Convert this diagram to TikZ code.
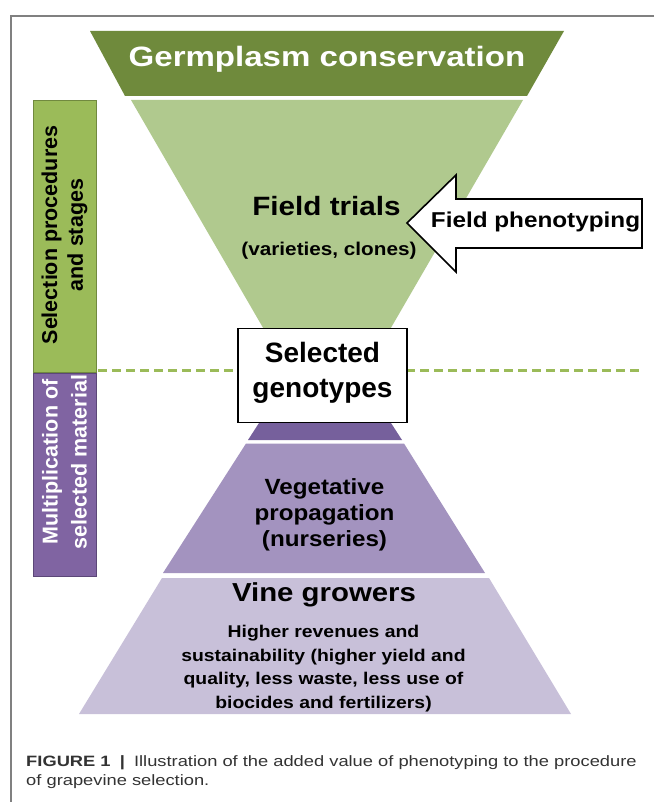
\documentclass[tikz,border=0pt]{standalone}
\usepackage{fontspec}
\setmainfont{Liberation Sans}
\definecolor{germgreen}{HTML}{6F8A3C}
\definecolor{trialgreen}{HTML}{B0C98E}
\definecolor{stagegreen}{HTML}{9BBB59}
\definecolor{stageedge}{HTML}{71893F}
\definecolor{selpurple}{HTML}{76609C}
\definecolor{nurspurple}{HTML}{A393BF}
\definecolor{growpurple}{HTML}{C8C0D9}
\definecolor{multpurple}{HTML}{8064A2}
\definecolor{multedge}{HTML}{5C4778}
\definecolor{capgray}{HTML}{333333}
\newcommand{\fsz}[2]{\fontsize{#1}{#2}\selectfont}
\tikzset{
    wide/.style={transform shape, xscale=#1},
    label/.style={font=\bfseries, inner sep=0pt},
}

\begin{document}
\begin{tikzpicture}[x=1pt,y=-1pt]
    \useasboundingbox (0,0) rectangle (654,802);
    \fill[white] (0,0) rectangle (654,802);
    % frame
    \draw[gray, line width=1.2] (654,16) -- (11,16) -- (11,802);
    % funnel
    \fill[germgreen] (90,31) -- (564,31) -- (527,96) -- (125,96) -- cycle;
    \fill[trialgreen] (131,100) -- (523,100) -- (381,345) -- (273,345) -- cycle;
    \fill[selpurple] (259,423) -- (391,423) -- (402,440) -- (248,440) -- cycle;
    \fill[nurspurple] (246,443.5) -- (404,443.5) -- (485,573) -- (163,573) -- cycle;
    \fill[growpurple] (162,578) -- (489,578) -- (571,714) -- (79,714) -- cycle;
    % side boxes
    \draw[stageedge, fill=stagegreen, line width=1] (33,101) rectangle (96,372);
    \draw[multedge, fill=multpurple, line width=1] (33,373) rectangle (96,576);
    \draw[stagegreen, line width=3, dash pattern=on 9pt off 5pt] (98,370) -- (642,370);
    % arrow
    \draw[black, fill=white, line width=1.6] (407,223) -- (456,175) -- (456,199) -- (642,199)
        -- (642,248) -- (456,248) -- (456,272) -- cycle;
    % box
    \node[draw, fill=white, line width=1.6, minimum width=169, minimum height=94] (sel) at (322.5,375.5) {};
    % texts
    \node[label, text=white, anchor=base, wide=1.18, font=\bfseries\fsz{28}{34}] (germ) at (327,67) {Germplasm conservation};
    \node[label, anchor=base, wide=1.12, font=\bfseries\fsz{26.5}{32}] (trials) at (326.5,215) {Field trials};
    \node[label, anchor=base, wide=1.12, font=\bfseries\fsz{18.5}{22}] (clones) at (329,255) {(varieties, clones)};
    \node[label, anchor=base, wide=1.13, font=\bfseries\fsz{21.5}{26}] (pheno) at (535.5,227) {Field phenotyping};
    \node[label, align=center, font=\bfseries\fsz{28}{35}] (geno) at (322.5,373) {Selected\\genotypes};
    \node[label, align=center, wide=1.1, font=\bfseries\fsz{22}{26}] (nurs) at (324.5,514.5) {Vegetative\\propagation\\(nurseries)};
    \node[label, anchor=base, wide=1.13, font=\bfseries\fsz{26}{31}] (vine) at (324,601) {Vine growers};
    \node[label, align=center, wide=1.14, font=\bfseries\fsz{17}{23.6}] (gain) at (323.5,668.5)
        {Higher revenues and\\sustainability (higher yield and\\quality, less waste, less use of\\biocides and fertilizers)};
    \node[label, rotate=90, align=center, font=\bfseries\fsz{21.5}{25.8}] (stages) at (64.5,235) {Selection procedures\\and stages};
    \node[label, rotate=90, text=white, align=center, font=\bfseries\fsz{21.5}{29}] (mult) at (64.5,462) {Multiplication of\\selected material};
    % caption
    \node[text=capgray, inner sep=0pt, anchor=base west, wide=1.22, font=\fsz{15}{18}] (cap1) at (26,766.5)
        {\textbf{FIGURE 1}\enspace\textbf{|}\enspace Illustration of the added value of phenotyping to the procedure};
    \node[text=capgray, inner sep=0pt, anchor=base west, wide=1.22, font=\fsz{15}{18}] (cap2) at (26,785) {of grapevine selection.};
\end{tikzpicture}
\end{document}
